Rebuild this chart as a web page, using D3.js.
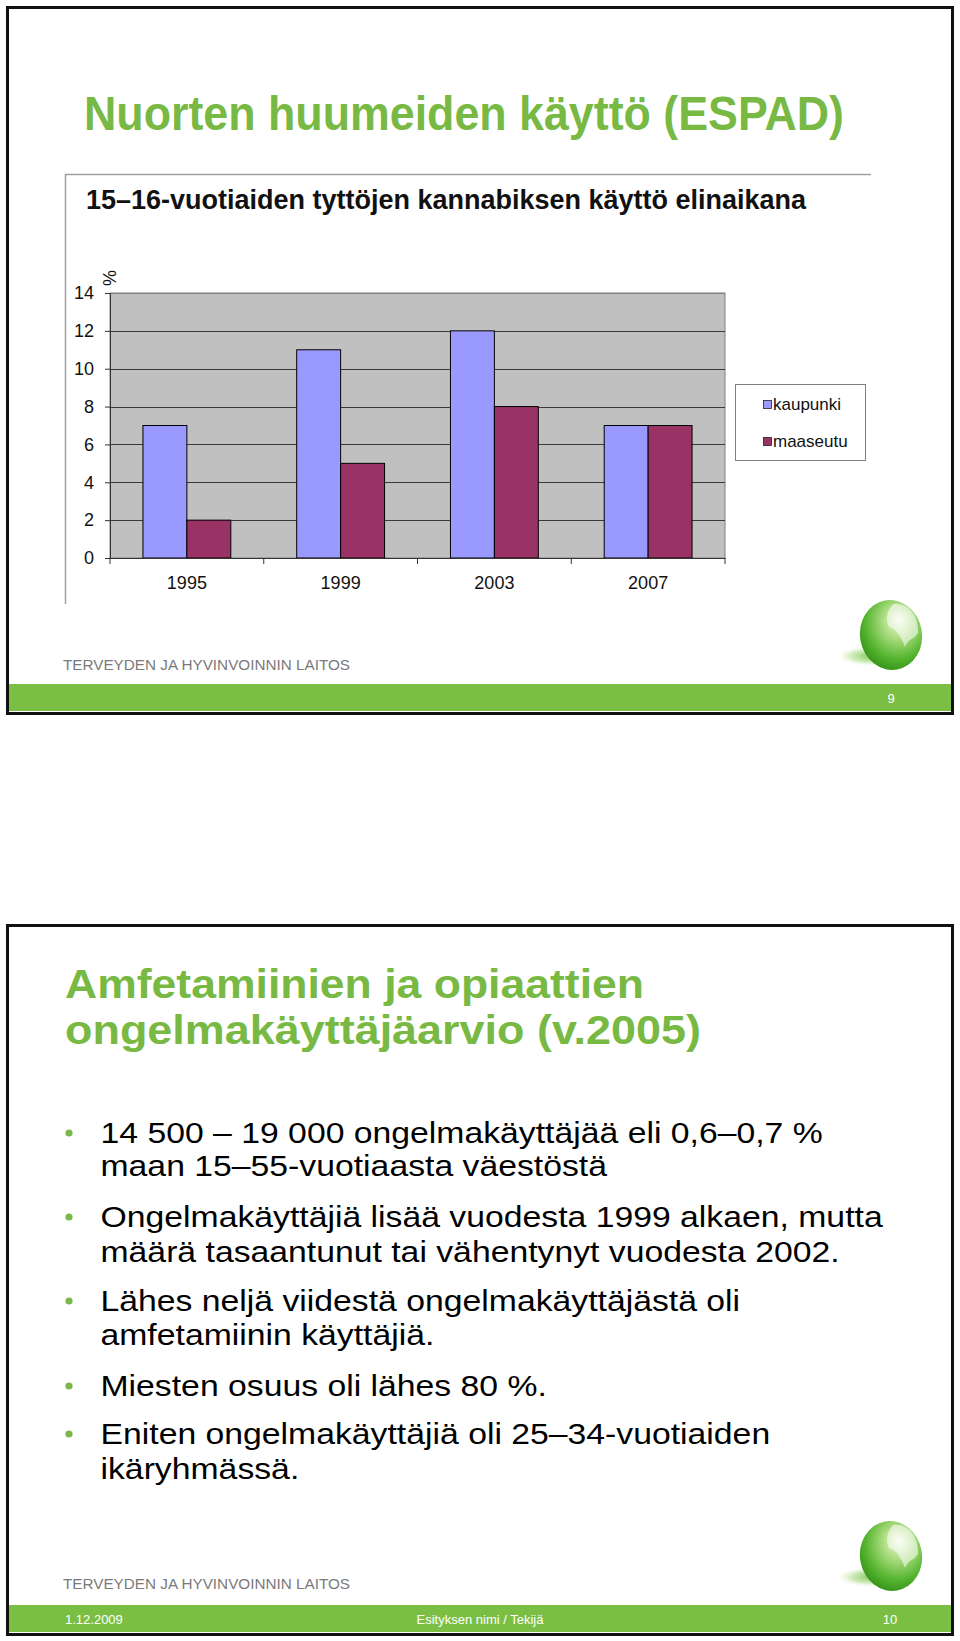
<!DOCTYPE html>
<html>
<head>
<meta charset="utf-8">
<script src="https://cdn.jsdelivr.net/npm/d3@7"></script>
<style>
  html, body { margin: 0; padding: 0; background: #fff; }
  svg { display: block; }
  text { font-family: "Liberation Sans", Arial, sans-serif; }
</style>
</head>
<body>
<svg id="page" width="960" height="1641"></svg>
<script>
// ---------------- DATA ----------------
const slide1Title = "Nuorten huumeiden käyttö (ESPAD)";
const chartTitle = "15–16-vuotiaiden tyttöjen kannabiksen käyttö elinaikana";
const categories = ["1995", "1999", "2003", "2007"];
const seriesNames = ["kaupunki", "maaseutu"];
const kaupunki = [7, 11, 12, 7];
const maaseutu = [2, 5, 8, 7];
const yTicks = [0, 2, 4, 6, 8, 10, 12, 14];
const yUnit = "%";
const orgName = "TERVEYDEN JA HYVINVOINNIN LAITOS";
const slide1Page = "9";

const slide2TitleLines = ["Amfetamiinien ja opiaattien", "ongelmakäyttäjäarvio (v.2005)"];
const bullets = [
  ["14 500 – 19 000 ongelmakäyttäjää eli 0,6–0,7 %", "maan 15–55-vuotiaasta väestöstä"],
  ["Ongelmakäyttäjiä lisää vuodesta 1999 alkaen, mutta", "määrä tasaantunut tai vähentynyt vuodesta 2002."],
  ["Lähes neljä viidestä ongelmakäyttäjästä oli", "amfetamiinin käyttäjiä."],
  ["Miesten osuus oli lähes 80 %."],
  ["Eniten ongelmakäyttäjiä oli 25–34-vuotiaiden", "ikäryhmässä."]
];
const slide2Footer = ["1.12.2009", "Esityksen nimi / Tekijä", "10"];

// ---------------- STYLE ----------------
const GREEN = "#78b944";
const BAR_GREEN = "#7abf44";
const seriesColors = ["#9999ff", "#993366"];

const svg = d3.select("#page");
const defs = svg.append("defs");

// ball gradients
const rg = defs.append("radialGradient").attr("id", "ballGrad")
  .attr("cx", "0.6").attr("cy", "0.38").attr("r", "0.72").attr("fx", "0.68").attr("fy", "0.3");
rg.append("stop").attr("offset", "0%").attr("stop-color", "#f2faea");
rg.append("stop").attr("offset", "30%").attr("stop-color", "#b5e08a");
rg.append("stop").attr("offset", "70%").attr("stop-color", "#56b52f");
rg.append("stop").attr("offset", "100%").attr("stop-color", "#2c8a14");
const sg = defs.append("radialGradient").attr("id", "shadowGrad")
  .attr("cx", "0.6").attr("cy", "0.5").attr("r", "0.5");
sg.append("stop").attr("offset", "0%").attr("stop-color", "#7cc653").attr("stop-opacity", 1);
sg.append("stop").attr("offset", "60%").attr("stop-color", "#b9e29c").attr("stop-opacity", 0.7);
sg.append("stop").attr("offset", "100%").attr("stop-color", "#e6f5da").attr("stop-opacity", 0);

function drawBall(g, cx, cy) {
  g.append("ellipse").attr("cx", cx - 26).attr("cy", cy + 21).attr("rx", 34).attr("ry", 10)
    .attr("fill", "url(#shadowGrad)");
  g.append("ellipse").attr("cx", cx).attr("cy", cy).attr("rx", 31).attr("ry", 35)
    .attr("transform", `rotate(-10 ${cx} ${cy})`)
    .attr("fill", "url(#ballGrad)");
  // light leaf-like highlight
  g.append("path")
    .attr("d", `M${cx+2},${cy-31} C${cx+18},${cy-33} ${cx+28},${cy-18} ${cx+27},${cy-2}
               C${cx+22},${cy+6} ${cx+18},${cy+2} ${cx+14},${cy+12}
               C${cx+10},${cy+2} ${cx+6},${cy-6} ${cx-2},${cy-8}
               C${cx-6},${cy-16} ${cx-4},${cy-24} ${cx+2},${cy-31} Z`)
    .attr("fill", "#ffffff").attr("opacity", 0.55);
}

function drawFrame(y0, y1, barY0, barY1, ballCy, orgY) {
  svg.append("rect").attr("x", 7.5).attr("y", y0).attr("width", 945).attr("height", y1 - y0)
    .attr("fill", "#fff").attr("stroke", "#111").attr("stroke-width", 3);
  svg.append("rect").attr("x", 9).attr("y", barY0).attr("width", 942).attr("height", barY1 - barY0)
    .attr("fill", BAR_GREEN);
  svg.append("text").attr("x", 63).attr("y", orgY)
    .attr("font-family", "'Open Sans', 'Noto Sans', sans-serif")
    .attr("font-size", 15).attr("fill", "#7a7a7a")
    .attr("textLength", 287).attr("lengthAdjust", "spacingAndGlyphs")
    .text(orgName);
  drawBall(svg.append("g"), 891, ballCy);
}

// ================= SLIDE 1 =================
drawFrame(7.5, 713.5, 684, 711, 635, 670);

svg.append("text").attr("x", 84).attr("y", 130)
  .attr("font-size", 48).attr("font-weight", "bold").attr("fill", GREEN)
  .attr("textLength", 760).attr("lengthAdjust", "spacingAndGlyphs")
  .text(slide1Title);

// chart picture frame (top and left edges)
svg.append("line").attr("x1", 65).attr("x2", 871).attr("y1", 174.5).attr("y2", 174.5)
  .attr("stroke", "#a0a0a0").attr("stroke-width", 1.5);
svg.append("line").attr("x1", 65.5).attr("x2", 65.5).attr("y1", 174).attr("y2", 604)
  .attr("stroke", "#a0a0a0").attr("stroke-width", 1.5);

svg.append("text").attr("x", 86).attr("y", 209)
  .attr("font-size", 28).attr("font-weight", "bold").attr("fill", "#111")
  .attr("textLength", 720).attr("lengthAdjust", "spacingAndGlyphs")
  .text(chartTitle);

// plot
const plot = { left: 110, right: 725, top: 293, bottom: 558 };
const x = d3.scaleBand().domain(categories).range([plot.left, plot.right]).padding(0);
const xs = d3.scaleBand().domain(seriesNames).range([0, x.bandwidth()]).paddingInner(0).paddingOuter(0.75);
const y = d3.scaleLinear().domain([0, 14]).range([plot.bottom, plot.top]);

svg.append("rect").attr("x", plot.left).attr("y", plot.top)
  .attr("width", plot.right - plot.left).attr("height", plot.bottom - plot.top)
  .attr("fill", "#c0c0c0").attr("stroke", "#808080").attr("stroke-width", 1);

// gridlines
svg.append("g").selectAll("line").data(yTicks.filter(d => d > 0)).join("line")
  .attr("x1", plot.left).attr("x2", plot.right)
  .attr("y1", d => Math.round(y(d)) + 0.5).attr("y2", d => Math.round(y(d)) + 0.5)
  .attr("stroke", d => d === 14 ? "#808080" : "#3a3a3a").attr("stroke-width", 1);

// bars
const barData = [];
categories.forEach((c, i) => {
  barData.push({ cat: c, s: seriesNames[0], v: kaupunki[i] });
  barData.push({ cat: c, s: seriesNames[1], v: maaseutu[i] });
});
svg.append("g").selectAll("rect").data(barData).join("rect")
  .attr("x", d => x(d.cat) + xs(d.s))
  .attr("y", d => y(d.v))
  .attr("width", xs.bandwidth())
  .attr("height", d => y(0) - y(d.v))
  .attr("fill", d => seriesColors[seriesNames.indexOf(d.s)])
  .attr("stroke", "#000").attr("stroke-width", 1);

// y axis
const yAxis = d3.axisLeft(y).tickValues(yTicks).tickSize(5).tickPadding(11).tickFormat(d3.format("d"));
const gy = svg.append("g").attr("transform", `translate(${plot.left},0)`).call(yAxis);
gy.select(".domain").attr("stroke", "#333");
gy.selectAll(".tick line").attr("stroke", "#333");
gy.selectAll("text").attr("font-size", 18).attr("fill", "#111")
  .attr("font-family", "'Liberation Sans', Arial, sans-serif");

// x axis
const xAxis = d3.axisBottom(x).tickSize(0).tickPadding(18);
const gx = svg.append("g").attr("transform", `translate(0,${plot.bottom})`).call(xAxis);
gx.select(".domain").attr("stroke", "#333");
gx.selectAll("text").attr("font-size", 18).attr("fill", "#111")
  .attr("font-family", "'Liberation Sans', Arial, sans-serif");
// category boundary ticks
svg.append("g").selectAll("line").data(categories.map((c) => x(c)).concat([plot.right])).join("line")
  .attr("x1", d => d).attr("x2", d => d)
  .attr("y1", plot.bottom).attr("y2", plot.bottom + 6)
  .attr("stroke", "#333");

// unit label
svg.append("text").attr("transform", `translate(116,278) rotate(-90)`)
  .attr("text-anchor", "middle").attr("font-size", 18).attr("fill", "#111").text(yUnit);

// legend
const lg = svg.append("g");
lg.append("rect").attr("x", 735.5).attr("y", 384.5).attr("width", 130).attr("height", 76)
  .attr("fill", "#fff").attr("stroke", "#808080");
seriesNames.forEach((s, i) => {
  const ly = 404 + i * 37;
  lg.append("rect").attr("x", 763.5).attr("y", ly - 3.5).attr("width", 8).attr("height", 8)
    .attr("fill", seriesColors[i]).attr("stroke", "#222").attr("stroke-width", 0.8);
  lg.append("text").attr("x", 773).attr("y", ly + 6).attr("font-size", 17).attr("fill", "#111").text(s);
});

svg.append("text").attr("x", 891).attr("y", 703).attr("font-size", 13).attr("fill", "#fff")
  .attr("text-anchor", "middle").text(slide1Page);

// ================= SLIDE 2 =================
drawFrame(925.5, 1634.5, 1605, 1632, 1556, 1589);

const titleWidths = [579, 636];
slide2TitleLines.forEach((t, i) => {
  svg.append("text").attr("x", 65).attr("y", 998 + i * 46)
    .attr("font-size", 40).attr("font-weight", "bold").attr("fill", GREEN)
    .attr("textLength", titleWidths[i]).attr("lengthAdjust", "spacingAndGlyphs")
    .text(t);
});

const lineBaselines = [[1143, 1176], [1227, 1262], [1311, 1345], [1396], [1444, 1479]];
const bg = svg.append("g");
bullets.forEach((lines, bi) => {
  bg.append("circle").attr("cx", 69).attr("cy", lineBaselines[bi][0] - 10).attr("r", 3.6)
    .attr("fill", "#7ab84a");
  lines.forEach((t, li) => {
    bg.append("text")
      .attr("transform", `translate(100.5,${lineBaselines[bi][li]}) scale(1.125,1)`)
      .attr("font-size", 30).attr("fill", "#000")
      .text(t);
  });
});

svg.append("text").attr("x", 65).attr("y", 1624).attr("font-size", 13).attr("fill", "#fff").text(slide2Footer[0]);
svg.append("text").attr("x", 480).attr("y", 1624).attr("font-size", 13).attr("fill", "#fff")
  .attr("text-anchor", "middle").text(slide2Footer[1]);
svg.append("text").attr("x", 890).attr("y", 1624).attr("font-size", 13).attr("fill", "#fff")
  .attr("text-anchor", "middle").text(slide2Footer[2]);
</script>
</body>
</html>
